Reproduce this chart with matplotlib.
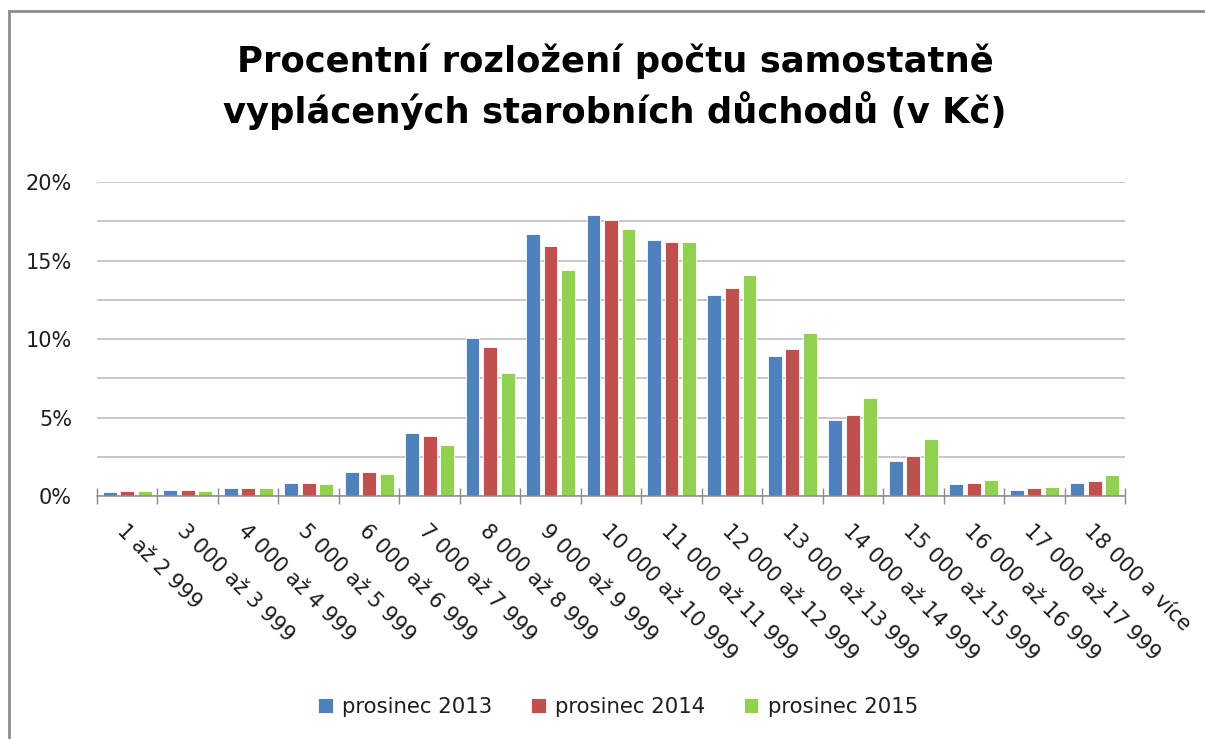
import numpy as np
import matplotlib
matplotlib.use('Agg')
import matplotlib.pyplot as plt
from matplotlib.lines import Line2D
from matplotlib.ticker import FuncFormatter, MultipleLocator

# =============================================================================
# Data (percent of pensions per amount band)
# =============================================================================
categories = ['1 až 2 999', '3 000 až 3 999', '4 000 až 4 999', '5 000 až 5 999',
              '6 000 až 6 999', '7 000 až 7 999', '8 000 až 8 999', '9 000 až 9 999',
              '10 000 až 10 999', '11 000 až 11 999', '12 000 až 12 999',
              '13 000 až 13 999', '14 000 až 14 999', '15 000 až 15 999',
              '16 000 až 16 999', '17 000 až 17 999', '18 000 a více']
dec_2013 = [0.23, 0.40, 0.49, 0.80, 1.54, 4.03, 10.04, 16.69, 17.89,
            16.29, 12.80, 8.90, 4.85, 2.26, 0.74, 0.40, 0.80]
dec_2014 = [0.32, 0.40, 0.49, 0.80, 1.54, 3.82, 9.47, 15.95, 17.57,
            16.18, 13.27, 9.39, 5.17, 2.57, 0.80, 0.49, 0.97]
dec_2015 = [0.32, 0.32, 0.49, 0.74, 1.39, 3.23, 7.85, 14.41, 17.00,
            16.18, 14.07, 10.36, 6.22, 3.65, 1.05, 0.57, 1.31]
series_names = ['prosinec 2013', 'prosinec 2014', 'prosinec 2015']
colors = ['#4F81BD', '#C0504D', '#92D050']

plt.rcParams['font.family'] = ['DejaVu Sans']

fig = plt.figure(figsize=(12.05, 7.39), dpi=100)
ax = fig.add_axes([97 / 1205, 1 - 496 / 739, (1125 - 97) / 1205, (496 - 182) / 739])

x = np.arange(len(categories))
width = 0.23
offset = 0.29
for i, (vals, name, col) in enumerate(zip([dec_2013, dec_2014, dec_2015], series_names, colors)):
    ax.bar(x + (i - 1) * offset, vals, width, color=col, label=name,
           edgecolor='white', linewidth=0.6, zorder=3)

ax.set_xlim(-0.5, len(categories) - 0.5)
ax.set_ylim(0, 20)
ax.yaxis.set_major_locator(MultipleLocator(5))
ax.yaxis.set_minor_locator(MultipleLocator(2.5))
ax.yaxis.set_major_formatter(FuncFormatter(lambda v, p: '{:.0f}%'.format(v)))
ax.grid(axis='y', which='both', color='#b8b8b8', linewidth=1.1, zorder=0)
ax.tick_params(axis='y', which='both', length=0, pad=18, labelsize=15, labelcolor='#1e1e1e')

ax.set_xticks(x)
ax.set_xticklabels(categories, rotation=-45, ha='left', va='top', rotation_mode='anchor',
                   fontsize=15, color='#1e1e1e')
ax.set_xticks(np.arange(-0.5, len(categories)), minor=True)
ax.tick_params(axis='x', which='major', length=0, pad=18)
ax.tick_params(axis='x', which='minor', direction='inout', length=12, color='#8c8c8c', width=1)

for s in ['left', 'right', 'top']:
    ax.spines[s].set_visible(False)
ax.spines['bottom'].set_color('#8c8c8c')
ax.spines['bottom'].set_linewidth(1.1)
ax.spines['bottom'].set_zorder(4)

# title
fig.text(615 / 1205, 1 - 72 / 739, 'Procentní rozložení počtu samostatně',
         ha='center', va='baseline', fontsize=25.5, fontweight='bold', color='black')
fig.text(615 / 1205, 1 - 123 / 739, 'vyplácených starobních důchodů (v Kč)',
         ha='center', va='baseline', fontsize=25.5, fontweight='bold', color='black')

# legend
fig.legend(loc='center', bbox_to_anchor=(618 / 1205, 1 - 707 / 739), ncol=3, frameon=False,
           fontsize=15.3, handlelength=0.7, handleheight=0.7, handletextpad=0.45,
           columnspacing=1.8, labelcolor='#1e1e1e')

# frame of the chart area (only left and top edges are visible)
fig.add_artist(Line2D([9 / 1205, 9 / 1205], [0, 1 - 11 / 739], transform=fig.transFigure,
                      color='#8c8c8c', linewidth=2))
fig.add_artist(Line2D([9 / 1205, 1], [1 - 11 / 739, 1 - 11 / 739], transform=fig.transFigure,
                      color='#8c8c8c', linewidth=2))

fig.savefig('out.png', dpi=100, facecolor='white')
